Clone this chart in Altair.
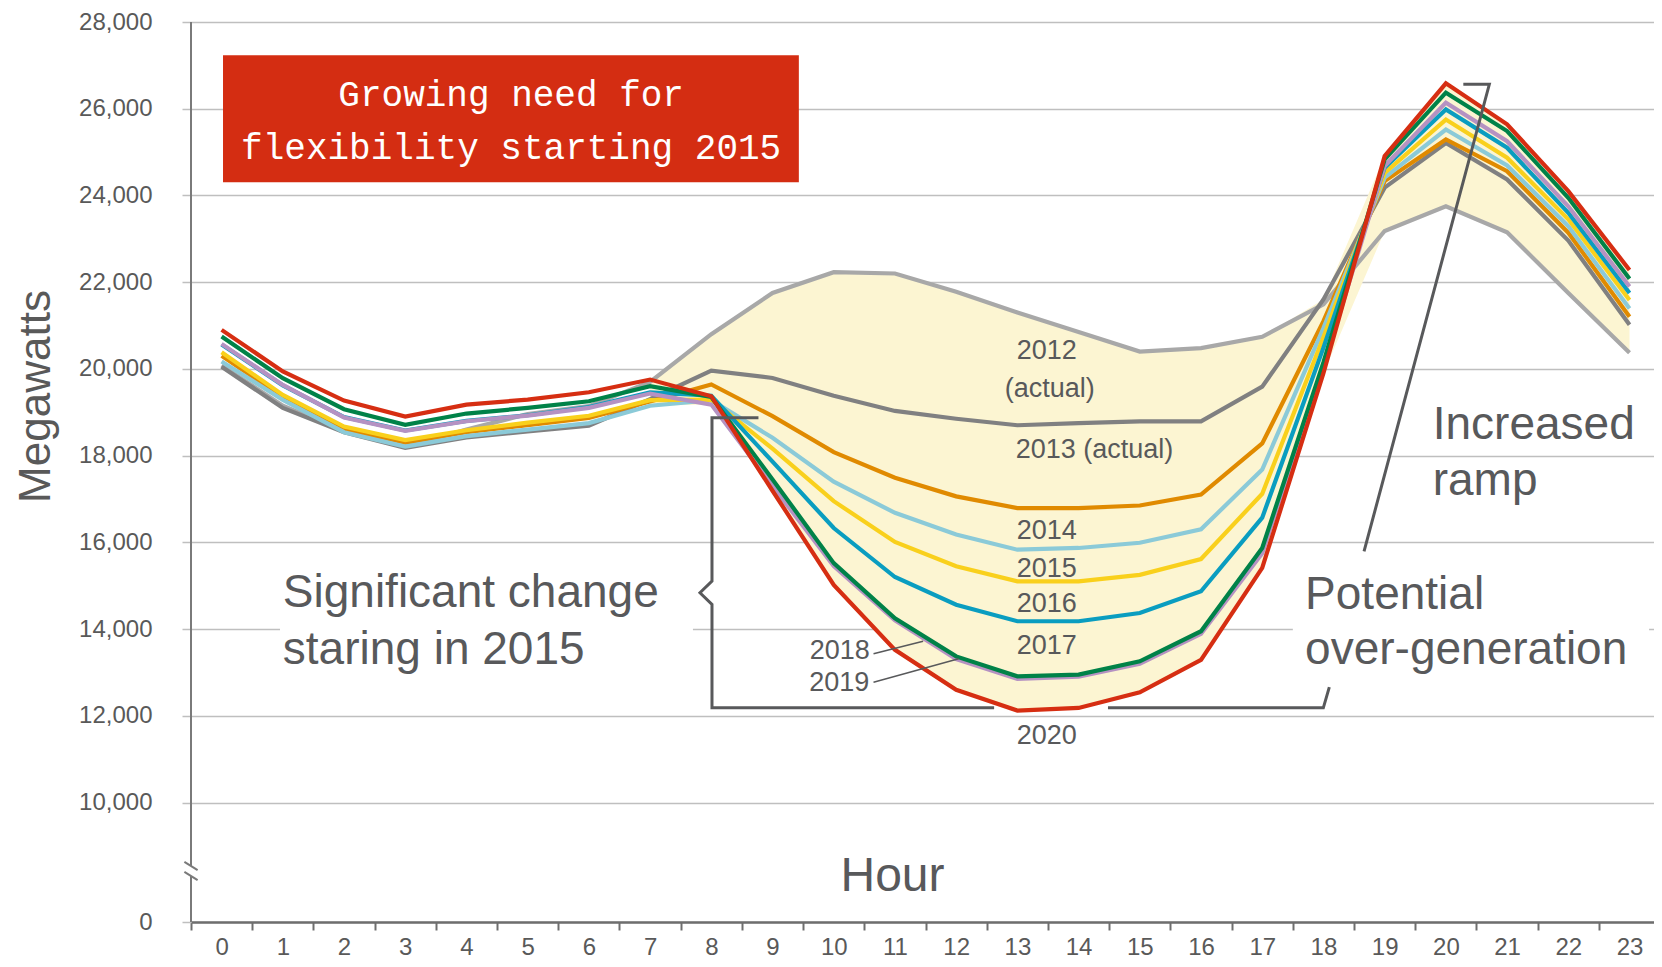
import altair as alt
import pandas as pd

# ---------------- data ----------------
hours = list(range(24))
years = ["2012", "2013", "2014", "2015", "2016", "2017", "2019", "2018", "2020"]  # draw order

load_2012 = [20080, 19150, 18560, 18200, 18600, 18960, 19140, 19700, 20800, 21750, 22230, 22200,
             21780, 21300, 20850, 20400, 20480, 20740, 21490, 23180, 23750, 23150, 21750, 20370]
load_2013 = [20050, 19100, 18540, 18180, 18420, 18560, 18690, 19300, 19960, 19790, 19380, 19030,
             18850, 18700, 18750, 18790, 18790, 19590, 21600, 24180, 25210, 24370, 22960, 21020]
load_2014 = [20300, 19350, 18620, 18300, 18540, 18700, 18870, 19250, 19640, 18910, 18080, 17490,
             17060, 16790, 16790, 16850, 17100, 18280, 21100, 24330, 25290, 24560, 23140, 21200]
load_2015 = [20170, 19285, 18540, 18210, 18450, 18600, 18750, 19150, 19280, 18410, 17400, 16680,
             16180, 15830, 15870, 15990, 16300, 17680, 20940, 24410, 25520, 24690, 23290, 21390]
load_2016 = [20385, 19400, 18670, 18360, 18585, 18760, 18920, 19280, 19290, 18160, 16950, 16010,
             15450, 15100, 15100, 15250, 15615, 17120, 20730, 24520, 25750, 24870, 23450, 21590]
load_2017 = [20560, 19620, 18890, 18580, 18800, 18930, 19120, 19460, 19380, 17860, 16330, 15200,
             14560, 14180, 14180, 14370, 14870, 16570, 20490, 24640, 25985, 25100, 23600, 21750]
load_2018 = [20746, 19785, 19070, 18710, 18970, 19100, 19254, 19600, 19354, 17450, 15520, 14250,
             13370, 12910, 12950, 13255, 13950, 15870, 20150, 24830, 26370, 25485, 23946, 22077]
load_2019 = [20577, 19630, 18880, 18570, 18793, 18923, 19100, 19431, 19177, 17300, 15450, 14200,
             13310, 12850, 12900, 13200, 13890, 15750, 20050, 24680, 26140, 25250, 23750, 21900]
load_2020 = [20900, 19940, 19270, 18900, 19177, 19292, 19462, 19754, 19370, 17190, 15020, 13520,
             12600, 12120, 12180, 12540, 13290, 15410, 19900, 24907, 26585, 25640, 24100, 22280]

series = {"2012": load_2012, "2013": load_2013, "2014": load_2014, "2015": load_2015,
          "2016": load_2016, "2017": load_2017, "2018": load_2018, "2019": load_2019,
          "2020": load_2020}
colors = {"2012": "#A8A8A8", "2013": "#808081", "2014": "#E08A00", "2015": "#8BCAD8",
          "2016": "#F9D01C", "2017": "#0A9DC0", "2018": "#008248", "2019": "#B592C2",
          "2020": "#D62E12"}

y_ticks = [0, 10000, 12000, 14000, 16000, 18000, 20000, 22000, 24000, 26000, 28000]

year_labels = ["2012", "(actual)", "2013 (actual)", "2014", "2015", "2016", "2017", "2020"]
year_label_h = [13.48, 13.53, 14.26, 13.48, 13.48, 13.48, 13.48, 13.48]
year_label_v = [20404, 19546, 18140, 16251, 15375, 14568, 13608, 11524]

side_labels = ["2018", "2019"]
side_label_h = [10.59, 10.58]
side_label_v = [13483, 12745]

note_labels = ["Significant change", "staring in 2015", "Potential", "over-generation",
               "Increased", "ramp"]
note_h = [1.0, 1.0, 17.70, 17.70, 19.785, 19.785]
note_v = [14498, 13183, 14468, 13183, 18390, 17082]

box_lines = ["Growing need for", "flexibility starting 2015"]

# ---------------- layout ----------------
W, H = 1463, 900
X_DOMAIN = [-0.5, 23.4]
PXH = W / (X_DOMAIN[1] - X_DOMAIN[0])
xs = alt.Scale(domain=X_DOMAIN, nice=False, zero=False)
ys = alt.Scale(domain=[0, 10000, 28000], range=[H, 780.5, 0], nice=False, zero=False)
TXT = "#58595B"
LBL = "#595959"

x_axis = alt.Axis(
    values=hours, tickOffset=-PXH / 2, labelOffset=PXH / 2, grid=False,
    domainColor="#6E6E6E", domainWidth=2.5, tickColor="#6E6E6E", tickWidth=2,
    tickSize=8, labelFontSize=24, labelColor=LBL, labelPadding=5,
    labelFlush=False, labelOverlap=False, title="Hour", titleFontSize=48,
    titleColor=TXT, titleFontWeight="normal", titleX=701, titleY=-46,
    titleAlign="center", titleBaseline="middle")
y_axis = alt.Axis(
    values=y_ticks, labelExpr="format(datum.value, ',d')", grid=True,
    gridColor="#BFBFBF", gridWidth=1.5,
    domain=False, ticks=True, tickColor="#BFBFBF", tickSize=9, tickWidth=1.5,
    labelFontSize=24, labelColor=LBL, labelPadding=30, title="Megawatts",
    titleFontSize=44, titleColor=LBL, titleFontWeight="normal", titleAngle=270,
    titleX=-155, titleY=374, titleAlign="center", titleBaseline="middle")


def X(field):
    return alt.X(field, scale=xs, axis=x_axis)


def Y(field):
    return alt.Y(field, scale=ys, axis=y_axis)


# white boxes behind big annotations
white_df = pd.DataFrame({"x1": [0.954, 17.50], "x2": [7.70, 23.32],
                         "y1": [15605, 15605], "y2": [12375, 12375]})
white = alt.Chart(white_df).mark_rect(color="white").encode(
    x=X("x1:Q"), x2="x2:Q", y=Y("y1:Q"), y2="y2:Q")

# yellow fill between extremes from hour 7
fill_hours = hours[7:]
fill_hi = [max(series[y][h] for y in series) for h in fill_hours]
fill_lo = [min(series[y][h] for y in series) for h in fill_hours]
fill_df = pd.DataFrame({"hour": fill_hours, "hi": fill_hi, "lo": fill_lo})
fill = alt.Chart(fill_df).mark_area(color="#FCF5D2").encode(
    x=X("hour:Q"), y=Y("hi:Q"), y2="lo:Q")

layers = [white, fill]
for yr in years:
    df = pd.DataFrame({"hour": hours, "mw": series[yr]})
    layers.append(alt.Chart(df).mark_line(color=colors[yr], strokeWidth=4.2).encode(
        x=X("hour:Q"), y=Y("mw:Q")))

# y axis line with break
axis_df = pd.DataFrame({"x1": [-0.5, -0.5], "x2": [-0.5, -0.5],
                        "y1": [28000, 3849], "y2": [4686, 0]})
slash_df = pd.DataFrame({"x1": [-0.608, -0.608], "x2": [-0.392, -0.392],
                         "y1": [5037, 4200], "y2": [4335, 3498]})
for d in (axis_df, slash_df):
    layers.append(alt.Chart(d).mark_rule(color="#7A7A7A", strokeWidth=2).encode(
        x=X("x1:Q"), x2="x2:Q", y=Y("y1:Q"), y2="y2:Q"))

# brackets
br_h = [8.77, 8.011, 8.011, 7.815, 8.011, 8.011, 12.62,
        14.48, 17.998, 18.096,
        20.285, 20.71, 18.663]
br_v = [18874, 18874, 15105, 14837, 14567, 12184, 12184,
        12184, 12184, 12660,
        26563, 26563, 15790]
br_seg = ["a"] * 7 + ["b"] * 3 + ["c"] * 3
br_df = pd.DataFrame({"h": br_h, "v": br_v, "seg": br_seg, "ord": list(range(len(br_h)))})
layers.append(alt.Chart(br_df).mark_line(color=TXT, strokeWidth=3, strokeJoin="miter").encode(
    x=X("h:Q"), y=Y("v:Q"), detail="seg:N", order="ord:Q"))

# leader lines 2018 / 2019
lead_df = pd.DataFrame({"x1": [10.65, 10.65], "x2": [11.46, 12.04],
                        "y1": [13430, 12775], "y2": [13720, 13315]})
layers.append(alt.Chart(lead_df).mark_rule(color=TXT, strokeWidth=1.5).encode(
    x=X("x1:Q"), x2="x2:Q", y=Y("y1:Q"), y2="y2:Q"))

# year labels
yl_df = pd.DataFrame({"h": year_label_h, "v": year_label_v, "t": year_labels})
layers.append(alt.Chart(yl_df).mark_text(fontSize=27, color=TXT, align="center",
                                         baseline="middle").encode(
    x=X("h:Q"), y=Y("v:Q"), text="t:N"))
sl_df = pd.DataFrame({"h": side_label_h, "v": side_label_v, "t": side_labels})
layers.append(alt.Chart(sl_df).mark_text(fontSize=27, color=TXT, align="right",
                                         baseline="middle").encode(
    x=X("h:Q"), y=Y("v:Q"), text="t:N"))

# big notes
nt_df = pd.DataFrame({"h": note_h, "v": note_v, "t": note_labels})
layers.append(alt.Chart(nt_df).mark_text(fontSize=46, color=TXT, align="left",
                                         baseline="alphabetic").encode(
    x=X("h:Q"), y=Y("v:Q"), text="t:N"))

# red box
rb_df = pd.DataFrame({"x1": [0.023], "x2": [9.43], "y1": [27232], "y2": [24302]})
layers.append(alt.Chart(rb_df).mark_rect(color="#D42D12").encode(
    x=X("x1:Q"), x2="x2:Q", y=Y("y1:Q"), y2="y2:Q"))
bt_df = pd.DataFrame({"h": [4.73, 4.73], "v": [26063, 24833], "t": box_lines})
layers.append(alt.Chart(bt_df).mark_text(fontSize=36, color="white", align="center",
                                         baseline="alphabetic",
                                         font="Liberation Mono").encode(
    x=X("h:Q"), y=Y("v:Q"), text="t:N"))

chart = alt.layer(*layers).properties(
    width=W, height=H,
    autosize=alt.AutoSizeParams(type="none"),
    padding={"left": 183, "top": 14, "right": 0, "bottom": 37},
    background="white",
).configure(font="Liberation Sans").configure_view(stroke=None)

chart.save("out.html", embed_options={"renderer": "svg", "actions": False})
